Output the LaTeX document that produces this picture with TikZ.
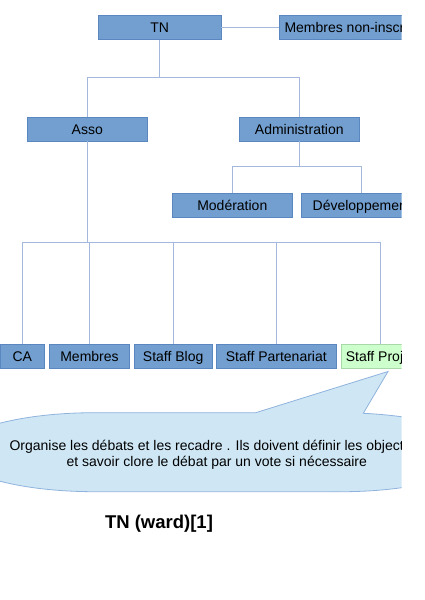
\documentclass[tikz,border=0pt]{standalone}
\usepackage{fontspec}
\setmainfont{Liberation Sans}
\definecolor{boxblue}{HTML}{729FCF}
\definecolor{boxedge}{HTML}{5A87C0}
\definecolor{linkcol}{HTML}{A3B8DC}
\definecolor{greenfill}{HTML}{CCFFCC}
\definecolor{greenedge}{HTML}{A8D8A8}
\definecolor{bubblefill}{HTML}{CFE7F5}
\definecolor{bubbleedge}{HTML}{8FB3DD}
\begin{document}
\begin{tikzpicture}[x=1pt,y=-1pt,
  orgbox/.style={draw=boxedge, line width=0.6pt, fill=boxblue, inner sep=0pt,
     minimum height=24.3pt, text height=10pt, text depth=0pt,
     font=\fontsize{14}{16}\selectfont},
  greenbox/.style={orgbox, draw=greenedge, fill=greenfill},
  boxtext/.style={inner sep=0pt, text height=10pt, text depth=0pt,
     font=\fontsize{14}{16}\selectfont},
  link/.style={draw=linkcol, line width=1pt},
  bubbletext/.style={inner sep=0pt, font=\fontsize{14}{16}\selectfont}]
\useasboundingbox (0,0) rectangle (424,600);
\begin{scope}
\clip (0,0) rectangle (401.7,600);
% boxes
\node[orgbox, minimum width=122.7pt] (TN) at (159.7,27.2) {TN};
\node[orgbox, minimum width=146pt, anchor=west] (MNI) at (279,27.2) {};
\node[boxtext, anchor=west] (MNItxt) at (284.3,27.2) {Membres non-inscrits};
\node[orgbox, minimum width=120.7pt] (Asso) at (87.3,129) {Asso};
\node[orgbox, minimum width=120.7pt] (Admin) at (299.3,129) {Administration};
\node[orgbox, minimum width=120.7pt] (Mod) at (232.3,205) {Modération};
\node[orgbox, minimum width=120.7pt] (Dev) at (361.7,205) {Développement};
\node[orgbox, minimum width=44.6pt] (CA) at (22.3,356.2) {CA};
\node[orgbox, minimum width=80.3pt] (Mem) at (89.5,356.2) {Membres};
\node[orgbox, minimum width=78.3pt] (Blog) at (173.2,356.2) {Staff Blog};
\node[orgbox, minimum width=120.7pt] (Part) at (276.3,356.2) {Staff Partenariat};
\node[greenbox, minimum width=78pt] (Proj) at (380.3,356.2) {Staff Projet};
% connectors
\draw[link] (TN.east) -- (MNI.west);
\coordinate (j1) at (159.7,77);
\draw[link] (TN.south) -- (j1);
\draw[link] (Asso.north) -- (Asso.north |- j1) -- (Admin.north |- j1) -- (Admin.north);
\coordinate (j2) at (299.3,166.7);
\draw[link] (Admin.south) -- (j2);
\draw[link] (Mod.north) -- (Mod.north |- j2) -- (Dev.north |- j2) -- (Dev.north);
\coordinate (j3) at (87.3,242.3);
\draw[link] (Asso.south) -- (j3);
\draw[link] (CA.north) -- (CA.north |- j3) -- (Proj.north |- j3) -- (Proj.north);
\draw[link] (Mem.north) -- (Mem.north |- j3);
\draw[link] (Blog.north) -- (Blog.north |- j3);
\draw[link] (Part.north) -- (Part.north |- j3);
% callout
\coordinate (tip) at (388,371.5);
\draw[fill=bubblefill, draw=bubbleedge, line width=0.8pt]
  (95,412.7) -- (255.7,412.7) -- (tip) -- (363.3,413.3)
  arc[start angle=-80.4, end angle=90, x radius=140, y radius=39.5]
  -- (95,491.7)
  arc[start angle=90, end angle=270, x radius=140, y radius=39.5]
  -- cycle;
\node[bubbletext, anchor=base west] (b1) at (9.3,450) {Organise les débats et les recadre . Ils doivent définir les objectifs};
\node[bubbletext, anchor=base] (b2) at (216.8,466.5) {et savoir clore le débat par un vote si nécessaire};
% title
\node[inner sep=0pt, anchor=base, font=\fontsize{18.5}{22}\selectfont\bfseries] (title) at (159,528) {TN (ward)[1]};
\end{scope}
\end{tikzpicture}
\end{document}
